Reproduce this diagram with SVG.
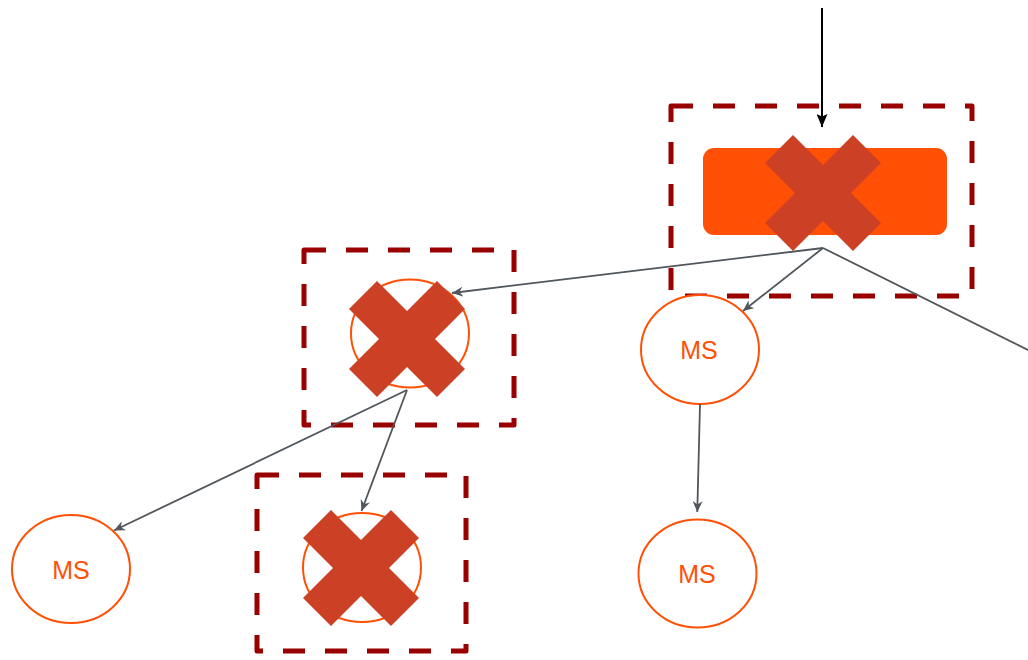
<svg xmlns="http://www.w3.org/2000/svg" width="1028" height="660" viewBox="0 0 1028 660">
<style>
.box{fill:none;stroke:#990000;stroke-width:5;stroke-dasharray:22 20;stroke-linejoin:round}
.ms{fill:#ffffff;stroke:#FF5005;stroke-width:2}
.lbl{font-family:"Liberation Sans",Arial,sans-serif;font-size:25px;fill:#FF5005;text-anchor:middle}
.x{fill:#CC4125}
.edge{fill:none;stroke:#50565C;stroke-width:1.8}
</style>
<defs>
<marker id="ag" viewBox="0 0 11 10" refX="11" refY="5" markerWidth="11" markerHeight="10" markerUnits="userSpaceOnUse" orient="auto">
<path d="M0,0 L11,5 L0,10 L3.5,5 z" fill="#50565C"/>
</marker>
<marker id="ab" viewBox="0 0 13 11" refX="13" refY="5.5" markerWidth="13" markerHeight="11" markerUnits="userSpaceOnUse" orient="auto">
<path d="M0,0 L13,5.5 L0,11 L2.5,5.5 z" fill="#000000"/>
</marker>
</defs>

<g id="gateway">
<path d="M671,106 H972 V296 H671 Z" class="box"/>
<rect x="703" y="148" width="244" height="87" rx="11" fill="#FF5005"/>
<polygon class="x" points="793,135 823,165 853,135 881,163 851,193 881,223 853,251 823,221 793,251 765,223 795,193 765,163"/>
</g>

<g id="node-failed-1">
<path d="M304,250 H514 V425 H304 Z" class="box"/>
<ellipse cx="410" cy="333.5" rx="59" ry="54" class="ms"/>
<polygon class="x" points="377,281 407,311 437,281 465,309 435,339 465,369 437,397 407,367 377,397 349,369 379,339 349,309"/>
</g>

<g id="node-failed-2">
<path d="M257,475 H466 V651 H257 Z" class="box"/>
<ellipse cx="362" cy="567.5" rx="59" ry="54.5" class="ms"/>
<polygon class="x" points="331,510 361,540 391,510 419,538 389,568 419,598 391,626 361,596 331,626 303,598 333,568 303,538"/>
</g>

<g id="ms-left">
<ellipse cx="71" cy="569" rx="59" ry="54" class="ms"/>
<text x="71" y="579" class="lbl">MS</text>
</g>

<g id="ms-mid">
<ellipse cx="700" cy="349.5" rx="59" ry="54.5" class="ms"/>
<text x="699" y="359" class="lbl">MS</text>
</g>

<g id="ms-bottom">
<ellipse cx="697.5" cy="573.5" rx="59" ry="54" class="ms"/>
<text x="697" y="583" class="lbl">MS</text>
</g>

<g id="connectors">
<path d="M822,8 L822,127" fill="none" stroke="#000000" stroke-width="2" marker-end="url(#ab)"/>
<path d="M823,248 L452,293" class="edge" marker-end="url(#ag)"/>
<path d="M823,248 L743,311" class="edge" marker-end="url(#ag)"/>
<path d="M823,248 L1032,352" class="edge"/>
<path d="M407,390 L114,530.5" class="edge" marker-end="url(#ag)"/>
<path d="M407,390 L361.5,511" class="edge" marker-end="url(#ag)"/>
<path d="M700,404 L697.3,512" class="edge" marker-end="url(#ag)"/>
</g>
</svg>
